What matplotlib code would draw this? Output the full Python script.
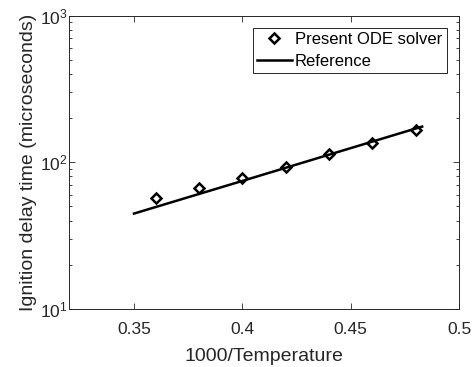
import matplotlib
matplotlib.use("Agg")
import matplotlib.pyplot as plt
import numpy as np

# ODE solver results
inv_temp = [0.36, 0.38, 0.40, 0.42, 0.44, 0.46, 0.48]
delay_solver = [57, 66.5, 78, 93, 114, 135, 165]

# reference curve
ref_inv_temp = [0.35, 0.40, 0.45, 0.483]
ref_delay = [44.7, 74.6, 124.8, 175]

plt.rcParams['font.family'] = ['Liberation Sans', 'DejaVu Sans']
plt.rcParams['mathtext.fontset'] = 'custom'
plt.rcParams['mathtext.rm'] = 'Liberation Sans'
grey = '0.15'

fig = plt.figure(figsize=(4.75, 3.67), dpi=100)
ax = fig.add_axes([69/475, 1 - 309/367, (459-69)/475, (309-15.5)/367])

ax.semilogy(inv_temp, delay_solver, linestyle='none', marker='D', markersize=5.5,
            markerfacecolor='none', markeredgecolor='k', markeredgewidth=1.8,
            label='Present ODE solver')
ax.semilogy(ref_inv_temp, ref_delay, color='k', linewidth=1.8, label='Reference')

ax.set_xlim(0.32, 0.5)
ax.set_ylim(10, 1000)
ax.set_xticks([0.35, 0.4, 0.45, 0.5])
ax.set_xticklabels(['0.35', '0.4', '0.45', '0.5'])

ax.tick_params(which='both', direction='in', top=True, right=True, colors=grey,
               labelsize=12.5, width=0.6)
ax.tick_params(which='major', length=4)
ax.tick_params(which='minor', length=2.5)
ax.tick_params(axis='x', which='minor', top=False, bottom=False)
ax.tick_params(axis='x', pad=9)
ax.tick_params(axis='y', pad=1)
for s in ax.spines.values():
    s.set_color(grey)
    s.set_linewidth(0.7)

ax.set_xlabel('1000/Temperature', fontsize=14, color=grey, labelpad=8)
ax.set_ylabel('Ignition delay time (microseconds)', fontsize=14, color=grey, labelpad=2)

leg = ax.legend(loc='upper right', fontsize=12, fancybox=False, framealpha=1,
                edgecolor=grey, borderpad=0.25, handlelength=2.1, handletextpad=0.2,
                labelspacing=0.4, borderaxespad=0.75)
leg.get_frame().set_linewidth(0.7)

fig.savefig('out.png', dpi=100)
